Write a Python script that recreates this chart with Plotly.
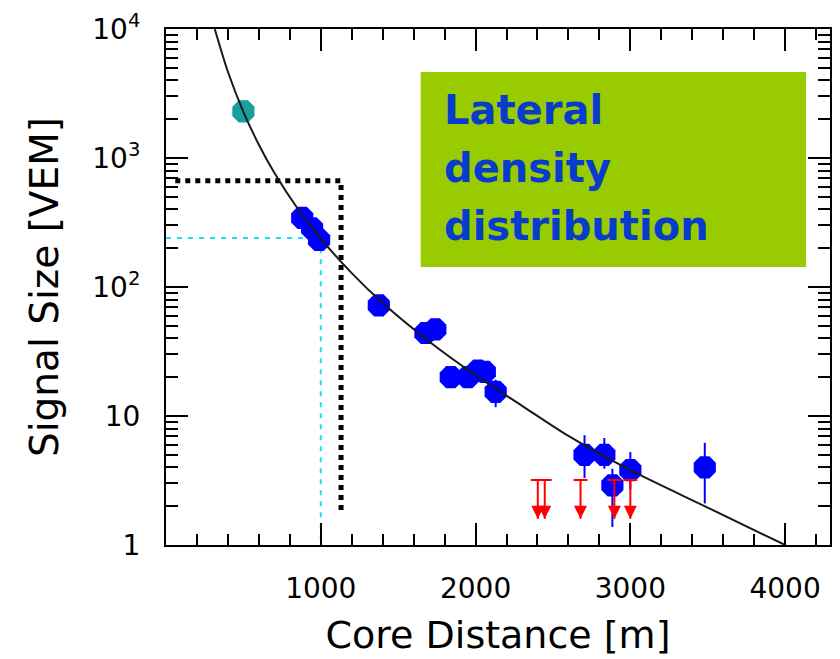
import plotly.graph_objects as go

# ---- data -------------------------------------------------------------
# lateral distribution fit (core distance in m, signal in VEM)
fit_distance = [315, 400, 500, 600, 700, 850, 1000, 1200, 1400, 1700, 2000, 2300, 2600, 3000, 3500, 4000]
fit_signal = [10000, 4660, 2280, 1268, 767, 406, 237, 128, 75, 37.8, 20.7, 12.0, 7.0, 3.8, 1.95, 1.0]

# saturated station
sat_distance = [500]
sat_signal = [2300]

# triggered stations
st_distance = [880, 944, 989, 1375, 1676, 1740, 1840, 1950, 2015, 2060, 2130, 2704, 2832, 2884, 3000, 3481]
st_signal = [343, 285, 232, 72, 44, 47, 20, 20, 22.5, 22, 15.4, 5.0, 5.0, 2.9, 3.8, 4.0]
st_err_up = [0, 0, 0, 0, 0, 0, 0, 0, 0, 0, 3.7, 2.1, 1.75, 1.0, 1.45, 2.2]
st_err_down = [0, 0, 0, 0, 0, 0, 0, 0, 0, 0, 3.7, 1.7, 1.1, 1.52, 1.1, 1.9]

# non-triggered stations (upper limits)
lim_distance = [2402, 2447, 2678, 2897, 3000]
lim_signal = [3.19, 3.19, 3.19, 3.19, 3.19]

# reference signal S(1000) and the dotted guide box
s1000_distance = 1000
s1000_signal = 240
box_distance = [60, 1131]
box_signal = [665, 1.87]

x_ticks = [1000, 2000, 3000, 4000]
x_ticklabels = ["1000", "2000", "3000", "4000"]
y_ticks = [1, 10, 100, 1000, 10000]
y_ticklabels = ["1", "10", "10<sup>2</sup>", "10<sup>3</sup>", "10<sup>4</sup>"]
label_lines = ["Lateral", "density", "distribution"]

# ---- figure -----------------------------------------------------------
fig = go.Figure()

# cyan S(1000) guides
fig.add_trace(go.Scatter(
    x=[0, s1000_distance, s1000_distance], y=[s1000_signal, s1000_signal, 1],
    mode="lines", line=dict(color="#1fe0ee", width=2, dash="5px,6px"),
    hoverinfo="skip"))

# black dotted box
fig.add_trace(go.Scatter(
    x=[box_distance[0], box_distance[1], box_distance[1]],
    y=[box_signal[0], box_signal[0], box_signal[1]],
    mode="lines", line=dict(color="black", width=5, dash="dot"),
    hoverinfo="skip"))

# saturated station
fig.add_trace(go.Scatter(
    x=sat_distance, y=sat_signal, mode="markers",
    marker=dict(symbol="octagon", size=24, color="#1a9e9e", line=dict(width=0)),
    hoverinfo="skip"))

# triggered stations
fig.add_trace(go.Scatter(
    x=st_distance, y=st_signal, mode="markers",
    marker=dict(symbol="octagon", size=24, color="#0000ff", line=dict(width=0)),
    error_y=dict(type="data", symmetric=False, array=st_err_up, arrayminus=st_err_down,
                 color="#0000ff", thickness=2, width=0),
    hoverinfo="skip"))

# fitted LDF
fig.add_trace(go.Scatter(
    x=fit_distance, y=fit_signal, mode="lines",
    line=dict(color="#1a1a1a", width=2, shape="spline", smoothing=0.8),
    hoverinfo="skip"))

# upper limits: T bar, stem and arrow head
half_bar = 45
arrow_ratio = 2.0
lx, ly = [], []
for d, s in zip(lim_distance, lim_signal):
    lx += [d - half_bar, d + half_bar, None, d, d, None]
    ly += [s, s, None, s, s / arrow_ratio, None]
fig.add_trace(go.Scatter(
    x=lx, y=ly, mode="lines", line=dict(color="#ff0000", width=2),
    hoverinfo="skip"))
fig.add_trace(go.Scatter(
    x=lim_distance, y=[s / arrow_ratio for s in lim_signal], mode="markers",
    marker=dict(symbol="arrow-down", size=13, color="#ff0000", line=dict(width=0)),
    hoverinfo="skip"))

axis_common = dict(
    showline=True, linecolor="black", linewidth=2, mirror="ticks",
    ticks="inside", ticklen=22, tickwidth=2, tickcolor="black",
    showgrid=False, zeroline=False,
    tickfont=dict(family="DejaVu Sans", size=28, color="black"),
)

fig.update_xaxes(
    range=[0, 4290], tickmode="array", tickvals=x_ticks, ticktext=x_ticklabels,
    minor=dict(ticks="inside", ticklen=11, tickwidth=2, tickcolor="black", dtick=200, tick0=0, showgrid=False),
    ticklabelstandoff=17,
    title=dict(text="Core Distance [m]", font=dict(family="DejaVu Sans", size=38, color="black"), standoff=18),
    **axis_common)

y_minor = [m * 10 ** e for e in range(4) for m in range(2, 10)]
fig.update_yaxes(
    type="log", range=[0, 4], tickmode="array", tickvals=y_ticks, ticktext=y_ticklabels,
    minor=dict(ticks="inside", ticklen=12, tickwidth=2, tickcolor="black", tickmode="array", tickvals=y_minor, showgrid=False),
    ticklabelstandoff=18,
    title=dict(text="Signal Size [VEM]", font=dict(family="DejaVu Sans", size=39, color="black"), standoff=22),
    **axis_common)

# green label panel
fig.add_shape(type="rect", xref="paper", yref="paper",
              x0=0.3835, x1=0.964, y0=0.5388, y1=0.9167,
              fillcolor="#99cc00", line=dict(width=0), layer="above")
for i, line in enumerate(label_lines):
    fig.add_annotation(
        xref="paper", yref="paper", x=(443 - 166) / 666, y=(545 - (110 + 58 * i)) / 516,
        xanchor="left", yanchor="middle", showarrow=False, text=line,
        font=dict(family="Comic Sans MS, DejaVu Sans", size=40, color="#0a3ccc", weight="bold"))

fig.update_layout(
    width=840, height=659,
    margin=dict(l=166, r=8, t=29, b=114),
    paper_bgcolor="white", plot_bgcolor="white",
    showlegend=False,
)

fig.write_html("out.html")
